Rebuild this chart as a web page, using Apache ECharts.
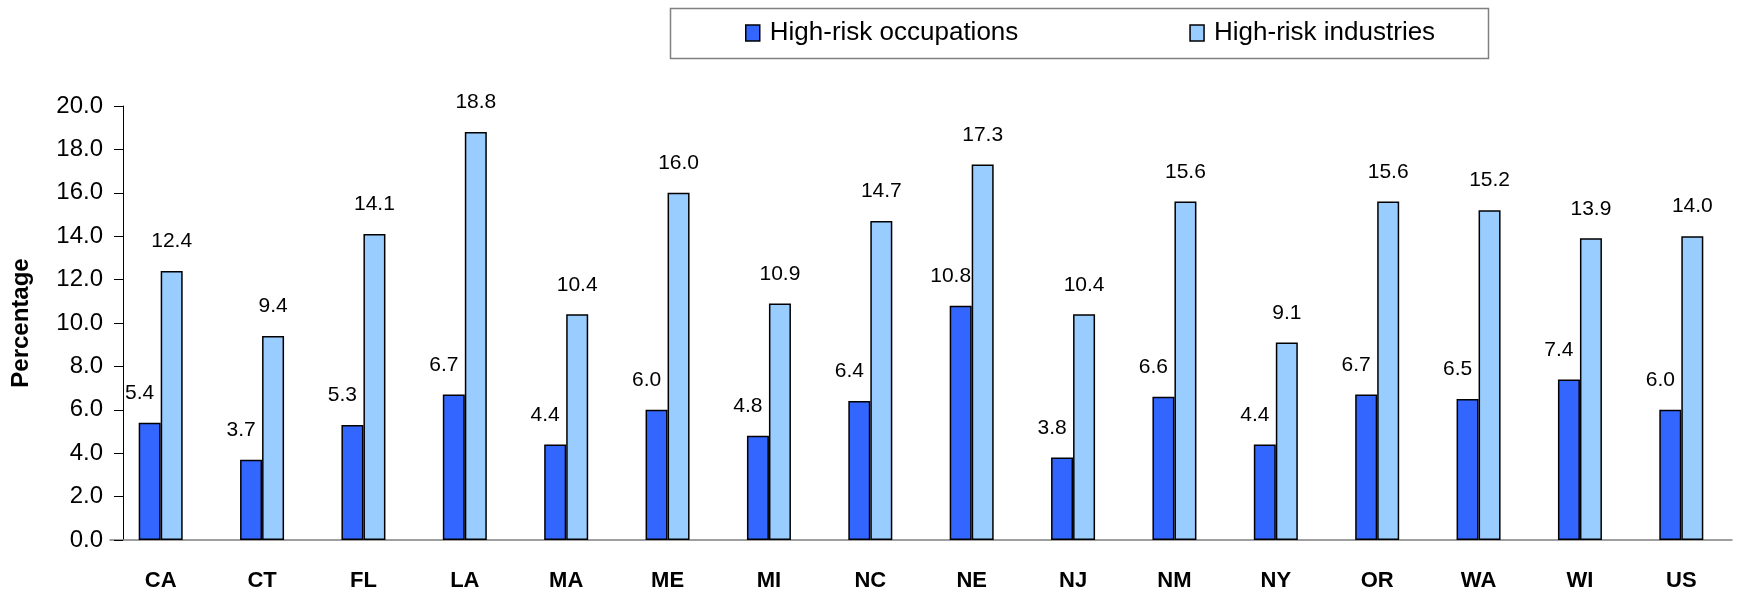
<!DOCTYPE html>
<html><head><meta charset="utf-8">
<script src="https://cdn.jsdelivr.net/npm/echarts@6/dist/echarts.min.js"></script>
<style>html,body{margin:0;padding:0;background:#fff}#c{width:1741px;height:596px}</style>
</head><body><div id="c"></div>
<script>
const categories = ['CA','CT','FL','LA','MA','ME','MI','NC','NE','NJ','NM','NY','OR','WA','WI','US'];
const occupations = [5.4,3.7,5.3,6.7,4.4,6.0,4.8,6.4,10.8,3.8,6.6,4.4,6.7,6.5,7.4,6.0];
const industries = [12.4,9.4,14.1,18.8,10.4,16.0,10.9,14.7,17.3,10.4,15.6,9.1,15.6,15.2,13.9,14.0];
const seriesNames = ['High-risk occupations','High-risk industries'];
const yTicks = {min:0, max:20, interval:2};

const FONT = '"Liberation Sans", Arial, sans-serif';
const chart = echarts.init(document.getElementById('c'), null, {renderer:'canvas'});
chart.setOption({
  animation:false,
  textStyle:{fontFamily:FONT},
  graphic:[{type:'rect', shape:{x:670.5,y:8.5,width:818,height:50}, style:{fill:'none',stroke:'#808080',lineWidth:1.5}}],
  legend:{left:745, top:20, padding:0, icon:'rect', itemWidth:14, itemHeight:16, itemGap:171,
    itemStyle:{borderColor:'#000', borderWidth:1.5},
    textStyle:{fontSize:26, color:'#000', fontFamily:FONT, padding:[0,0,0,5]},
    data:seriesNames},
  grid:{left:110, top:106, width:1622, bottom:56},
  xAxis:{type:'category', data:categories,
    axisLine:{lineStyle:{color:'#808080',width:1.5}},
    axisTick:{show:false},
    axisLabel:{fontSize:22, fontWeight:'bold', color:'#000', margin:30}},
  yAxis:{type:'value', min:yTicks.min, max:yTicks.max, interval:yTicks.interval, offset:-13,
    name:'Percentage', nameLocation:'middle', nameGap:90, nameRotate:90,
    nameTextStyle:{fontSize:24, fontWeight:'bold', color:'#000'},
    splitLine:{show:false},
    axisLine:{show:true, lineStyle:{color:'#000',width:1}},
    axisTick:{show:true, length:9, lineStyle:{color:'#000'}},
    axisLabel:{fontSize:24, color:'#000', margin:20, formatter:v=>v.toFixed(1)}},
  series:[
    {name:seriesNames[0], type:'bar', data:occupations, barWidth:22, barGap:'0%',
      itemStyle:{color:'#3366FF', borderColor:'#000', borderWidth:1.5},
      label:{show:true, position:'top', distance:19, offset:[-10,0], fontSize:21, color:'#000', formatter:p=>p.value.toFixed(1)}},
    {name:seriesNames[1], type:'bar', data:industries, barWidth:22, barGap:'0%',
      itemStyle:{color:'#99CCFF', borderColor:'#000', borderWidth:1.5},
      label:{show:true, position:'top', distance:19, fontSize:21, color:'#000', formatter:p=>p.value.toFixed(1)}}
  ]
});
</script></body></html>
